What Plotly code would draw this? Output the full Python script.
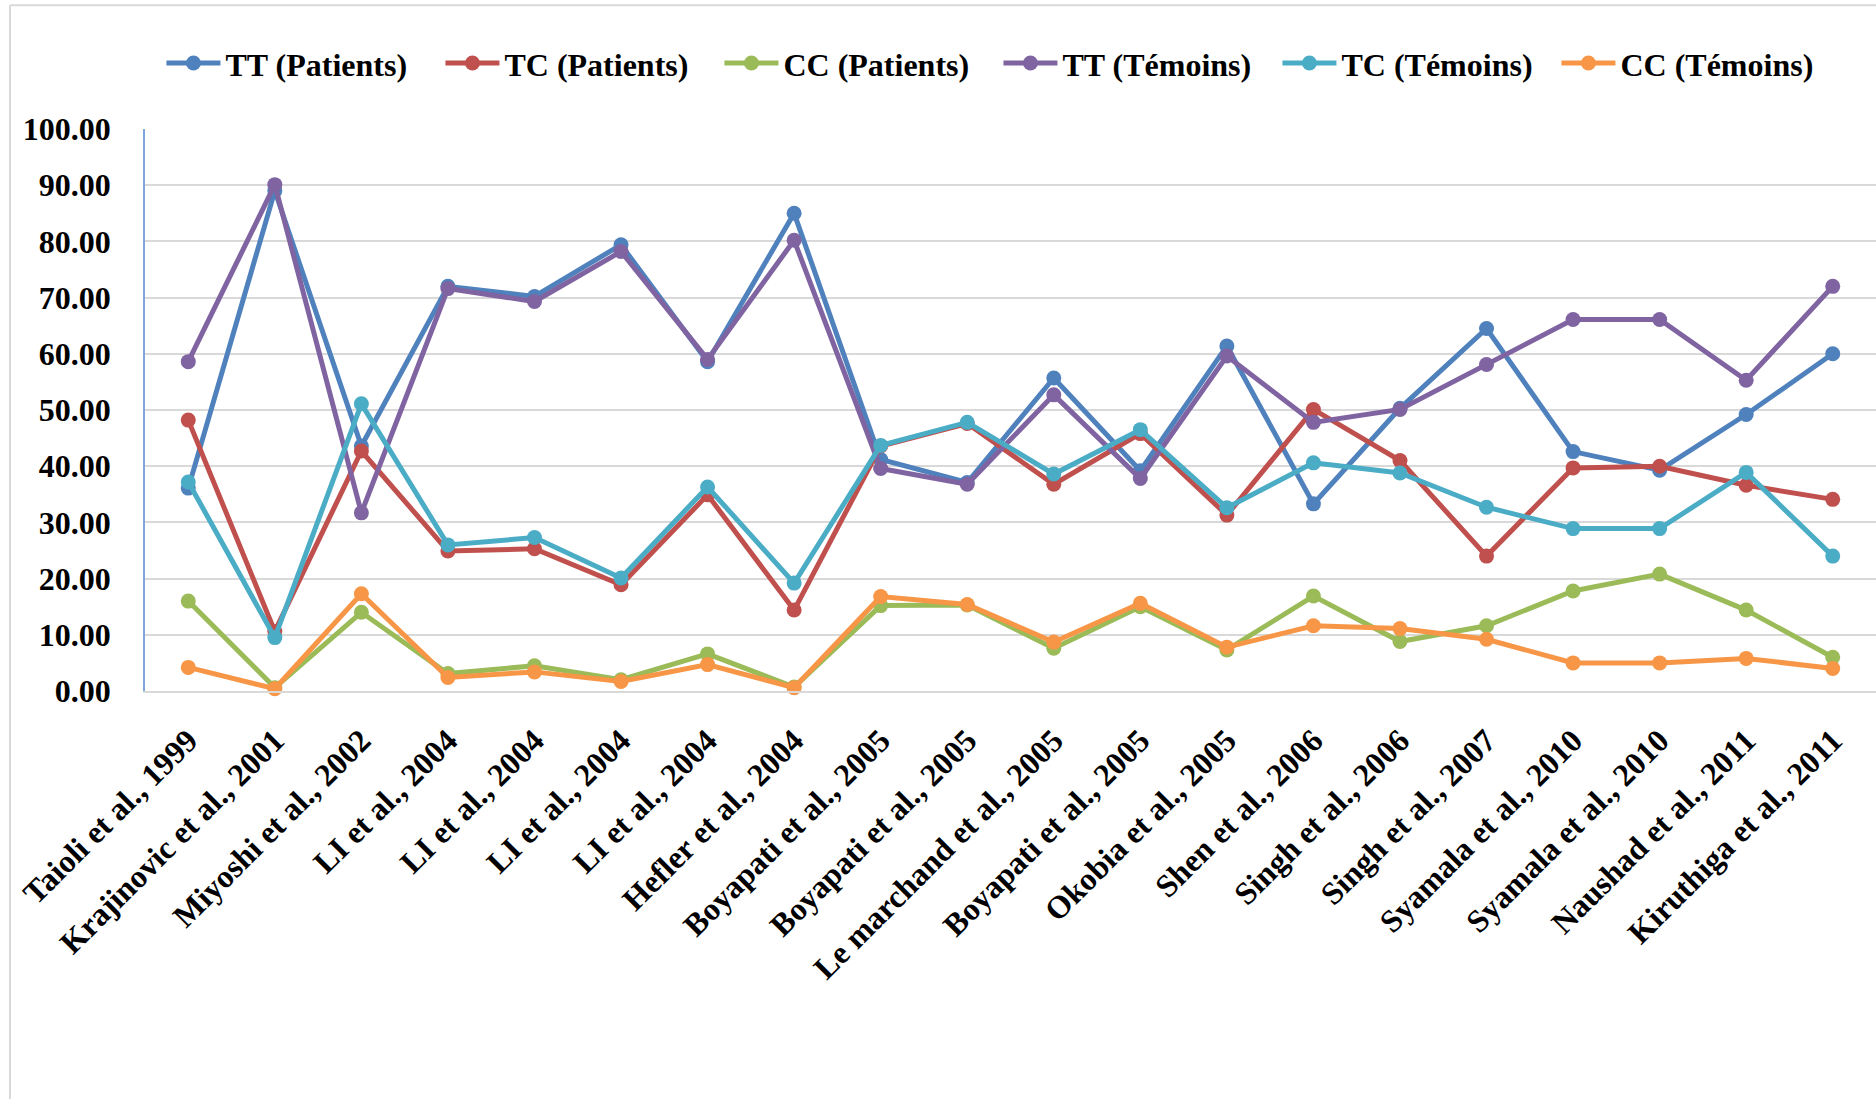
import plotly.graph_objects as go

# Studies (x categories)
studies = [
    "Taioli et al., 1999", "Krajinovic et al., 2001", "Miyoshi et al., 2002",
    "LI et al., 2004", "LI et al., 2004", "LI et al., 2004", "LI et al., 2004",
    "Hefler et al., 2004", "Boyapati et al., 2005", "Boyapati et al., 2005",
    "Le marchand et al., 2005", "Boyapati et al., 2005", "Okobia et al., 2005",
    "Shen et al., 2006", "Singh et al., 2006", "Singh et al., 2007",
    "Syamala et al., 2010", "Syamala et al., 2010", "Naushad et al., 2011",
    "Kiruthiga et al., 2011",
]

# Genotype frequencies (%)
tt_patients = [36.1, 89.0, 43.6, 72.0, 70.2, 79.4, 58.6, 85.0, 41.2, 37.1,
               55.7, 39.2, 61.4, 33.3, 50.3, 64.5, 42.6, 39.3, 49.2, 60.0]
tc_patients = [48.2, 10.6, 42.7, 24.9, 25.3, 18.9, 34.9, 14.4, 43.6, 47.6,
               36.8, 45.8, 31.3, 50.1, 41.0, 24.0, 39.7, 40.0, 36.6, 34.1]
cc_patients = [16.0, 0.6, 14.0, 3.1, 4.5, 2.0, 6.6, 0.7, 15.2, 15.3,
               7.6, 15.0, 7.3, 16.9, 8.8, 11.6, 17.8, 20.8, 14.4, 6.0]
tt_temoins = [58.6, 90.1, 31.7, 71.6, 69.3, 78.2, 59.0, 80.2, 39.6, 36.8,
              52.7, 37.8, 59.6, 47.8, 50.1, 58.1, 66.1, 66.1, 55.3, 72.0]
tc_temoins = [37.2, 9.5, 51.1, 26.0, 27.3, 20.1, 36.3, 19.2, 43.7, 47.8,
              38.6, 46.5, 32.6, 40.6, 38.8, 32.7, 28.9, 28.9, 38.9, 24.0]
cc_temoins = [4.2, 0.4, 17.3, 2.4, 3.4, 1.7, 4.7, 0.6, 16.8, 15.4,
              8.7, 15.6, 7.8, 11.6, 11.1, 9.2, 5.0, 5.0, 5.8, 4.0]

series = [
    ("TT (Patients)", tt_patients, "#4F81BD"),
    ("TC (Patients)", tc_patients, "#C0504D"),
    ("CC (Patients)", cc_patients, "#9BBB59"),
    ("TT (Témoins)", tt_temoins, "#8064A2"),
    ("TC (Témoins)", tc_temoins, "#4BACC6"),
    ("CC (Témoins)", cc_temoins, "#F79646"),
]

x_idx = list(range(len(studies)))
FONT = "Liberation Serif"

fig = go.Figure()
for name, vals, color in series:
    fig.add_trace(go.Scatter(
        x=x_idx, y=vals, name=name, mode="lines+markers",
        line=dict(color=color, width=5),
        marker=dict(color=color, size=15),
        cliponaxis=False,
    ))

fig.update_layout(
    width=1876, height=1099,
    margin=dict(l=145, r=0, t=129, b=408),
    paper_bgcolor="white", plot_bgcolor="white",
    font=dict(family=FONT, color="black", size=32, weight="bold"),
    showlegend=True,
    legend=dict(
        orientation="h", x=0.0095, xanchor="left", y=1.117, yanchor="middle",
        font=dict(family=FONT, size=32, weight="bold", color="black"),
        itemwidth=54, entrywidth=210, entrywidthmode="pixels",
    ),
    xaxis=dict(
        range=[-0.5, len(studies) - 0.5],
        tickmode="array", tickvals=x_idx, ticktext=studies,
        tickangle=-45, automargin=False,
        tickfont=dict(family=FONT, size=32, weight="bold", color="black"),
        showgrid=False, zeroline=False,
        showline=True, linecolor="#D9D9D9", linewidth=2,
        ticks="", ticklabelstandoff=16,
    ),
    yaxis=dict(
        range=[0, 100], dtick=10, tickformat=".2f", automargin=False,
        tickfont=dict(family=FONT, size=32, weight="bold", color="black"),
        showgrid=True, gridcolor="#D9D9D9", gridwidth=2,
        zeroline=False, showline=True, linecolor="#7FA6D8", linewidth=1.5,
        ticks="", ticklabelstandoff=26,
    ),
    shapes=[
        # chart frame (left and top edges)
        dict(type="line", xref="paper", yref="paper",
             x0=-0.078, x1=-0.078, y0=1.22, y1=-0.73,
             line=dict(color="#D9D9D9", width=2)),
        dict(type="line", xref="paper", yref="paper",
             x0=-0.078, x1=1.01, y0=1.22, y1=1.22,
             line=dict(color="#D9D9D9", width=2)),
    ],
)

fig.write_html("out.html")
